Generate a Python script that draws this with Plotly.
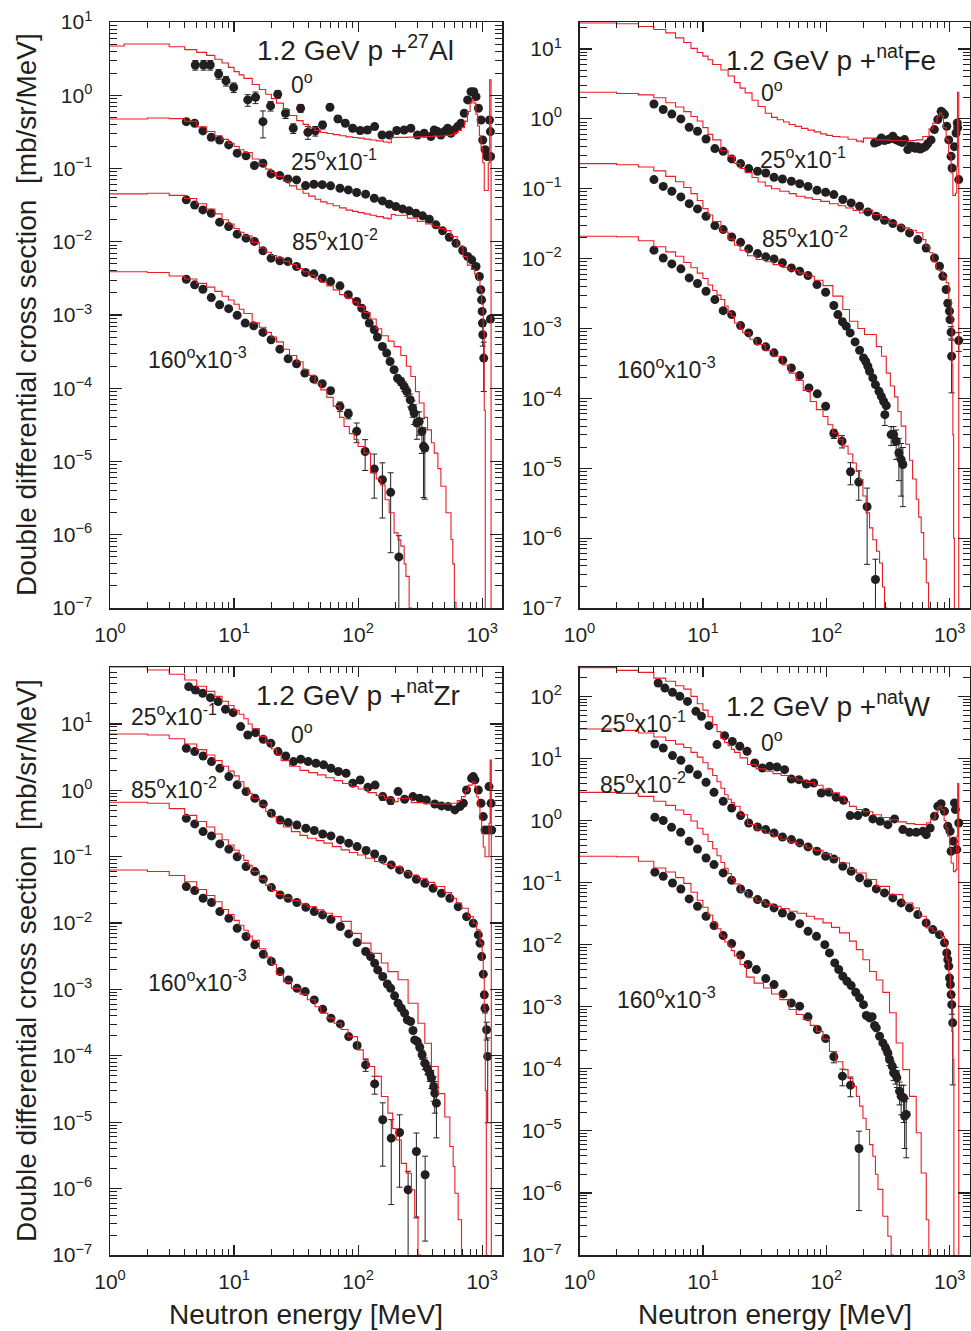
import plotly.graph_objects as go

# ---------------- Experimental data (E [MeV], d2sigma) ----------------
AL_EXP_E_0 = [4.87, 5.68, 6.43, 7.51, 8.61, 9.93, 12.9, 14.9, 17.1, 19.7, 22.5, 26.0, 30.0, 34.4, 39.4, 45.2, 51.7, 59.3, 68.8, 78.9, 90.4, 104, 119, 136, 156, 179, 205, 235, 266, 301, 341, 386, 411, 437, 465, 495, 527, 561, 597, 634, 675, 718, 764, 813, 855, 893, 933, 980, 1011, 1057, 1097, 1146, 1166, 1170]
AL_EXP_Y_0 = [2.59, 2.59, 2.59, 1.95, 1.57, 1.28, 0.863, 0.938, 0.436, 0.715, 1.03, 0.567, 0.354, 0.664, 0.313, 0.326, 0.394, 0.686, 0.475, 0.415, 0.354, 0.33, 0.336, 0.373, 0.287, 0.287, 0.33, 0.336, 0.354, 0.287, 0.303, 0.273, 0.336, 0.319, 0.287, 0.319, 0.354, 0.303, 0.336, 0.373, 0.415, 0.567, 0.863, 1.12, 1.12, 0.957, 0.664, 0.46, 0.245, 0.18, 0.146, 0.46, 0.319, 0.146]
AL_ERR_E_0 = [4.87, 5.68, 6.43, 7.51, 8.61, 9.93, 12.9, 14.9, 17.1, 19.7, 22.5, 26.0, 30.0, 34.4, 39.4, 45.2, 51.7, 59.3, 68.8, 78.9, 90.4, 104, 119, 136]
AL_ERR_R_0 = [0.15, 0.15, 0.15, 0.15, 0.15, 0.15, 0.18, 0.18, 0.4, 0.15, 0.12, 0.15, 0.15, 0.12, 0.2, 0.15, 0.12, 0.1, 0.1, 0.1, 0.1, 0.1, 0.1, 0.08]

AL_EXP_E_25 = [4.12, 4.81, 5.61, 6.55, 7.65, 9.05, 10.6, 12.5, 14.6, 17.1, 19.9, 23.4, 27.2, 31.9, 37.7, 44.0, 51.4, 60.0, 71.4, 83.4, 97.4, 115, 135, 157, 178, 201, 228, 258, 292, 331, 375, 424, 480, 543, 615, 697, 764, 824, 893, 950, 975, 990, 1000, 1005, 1012, 1030, 1166]
AL_EXP_Y_25 = [0.436, 0.415, 0.326, 0.267, 0.245, 0.21, 0.162, 0.149, 0.11, 0.118, 0.0843, 0.080, 0.0721, 0.0698, 0.0585, 0.061, 0.0602, 0.058, 0.0538, 0.051, 0.047, 0.0446, 0.0393, 0.0361, 0.0326, 0.0303, 0.0281, 0.0264, 0.0245, 0.0226, 0.0203, 0.017, 0.0141, 0.0115, 0.00954, 0.00759, 0.00629, 0.00566, 0.00459, 0.00336, 0.00221, 0.00161, 0.00112, 0.000775, 0.000537, 0.000258, 0.00088]
AL_ERR_E_25 = [1012, 1030, 1166]
AL_ERR_R_25 = [0.3, 0.65, 0.1]

AL_EXP_E_85 = [4.12, 4.81, 5.61, 6.55, 7.65, 9.05, 10.6, 12.5, 14.6, 17.1, 19.9, 23.4, 27.2, 31.9, 37.7, 44.0, 51.4, 60.0, 71.4, 83.4, 97.4, 107, 115, 123, 135, 143, 157, 170, 181, 195, 208, 221, 235, 247, 263, 275, 283, 298, 311, 327, 337, 345]
AL_EXP_Y_85 = [0.0373, 0.0318, 0.0272, 0.0245, 0.0185, 0.0161, 0.0127, 0.0112, 0.0101, 0.00752, 0.00597, 0.00549, 0.00537, 0.00459, 0.0038, 0.00365, 0.00318, 0.00286, 0.0025, 0.00189, 0.00153, 0.00124, 0.001, 0.000775, 0.000628, 0.000499, 0.000372, 0.000302, 0.000232, 0.000179, 0.000137, 0.000124, 0.000106, 9.04e-5, 6.96e-5, 5.36e-5, 4.58e-5, 3.35e-5, 3.53e-5, 2.58e-5, 1.61e-5, 1.53e-5]
AL_ERR_E_85 = [221, 235, 247, 263, 275, 283, 298, 311, 327, 337, 345]
AL_ERR_R_85 = [0.12, 0.15, 0.15, 0.2, 0.25, 0.3, 0.4, 0.35, 0.5, 0.8, 0.8]

AL_EXP_E_160 = [4.12, 4.81, 5.61, 6.55, 7.65, 9.05, 10.6, 12.3, 14.4, 17.1, 19.9, 23.4, 27.3, 31.9, 37.2, 44.0, 51.4, 60.0, 71.4, 83.4, 97.4, 114, 135, 157, 183, 213]
AL_EXP_Y_160 = [0.00308, 0.00258, 0.00225, 0.00173, 0.00138, 0.00122, 0.00099, 0.000775, 0.000713, 0.000578, 0.000459, 0.000342, 0.000253, 0.000216, 0.000161, 0.000133, 0.000115, 9.25e-5, 5.65e-5, 4.49e-5, 2.58e-5, 1.37e-5, 7.89e-6, 5.64e-6, 3.79e-6, 4.98e-7]
AL_ERR_E_160 = [71.4, 83.4, 97.4, 114, 135, 157, 183, 213]
AL_ERR_R_160 = [0.15, 0.15, 0.3, 0.45, 0.6, 0.7, 0.85, 0.95]

FE_EXP_E_0 = [246, 262, 279, 296, 315, 330, 346, 368, 392, 410, 430, 457, 480, 501, 525, 550, 576, 604, 633, 663, 706, 751, 800, 851, 880, 906, 946, 982, 1025, 1044, 1091, 1125, 1150, 1161, 1183]
FE_EXP_Y_0 = [0.452, 0.47, 0.533, 0.49, 0.505, 0.52, 0.563, 0.5, 0.478, 0.46, 0.505, 0.363, 0.41, 0.405, 0.38, 0.40, 0.37, 0.384, 0.40, 0.44, 0.50, 0.702, 0.975, 1.28, 1.22, 1.15, 0.783, 0.50, 0.291, 0.198, 0.40, 0.628, 0.873, 0.75, 0.135]
FE_ERR_E_0 = []
FE_ERR_R_0 = []

FE_EXP_E_25 = [4.01, 4.77, 5.6, 6.63, 7.74, 9.04, 10.6, 12.5, 14.6, 17.1, 20.2, 23.5, 27.7, 32.3, 37.7, 44.1, 52.1, 60.8, 71.1, 84, 98.7, 115, 136, 159, 186, 217, 254, 296, 346, 404, 472, 551, 644, 752, 826, 879, 935, 964, 995, 1005, 1026, 1035, 1183]
FE_EXP_Y_25 = [1.63, 1.36, 1.17, 0.997, 0.757, 0.664, 0.515, 0.375, 0.343, 0.267, 0.229, 0.194, 0.178, 0.168, 0.146, 0.138, 0.128, 0.118, 0.108, 0.095, 0.089, 0.0824, 0.07, 0.0627, 0.0561, 0.0466, 0.0404, 0.0354, 0.0317, 0.0275, 0.0233, 0.0187, 0.0142, 0.0102, 0.00778, 0.0056, 0.00361, 0.0023, 0.00177, 0.00134, 0.000885, 0.0004, 0.000671]
FE_ERR_E_25 = [1026, 1035, 1183]
FE_ERR_R_25 = [0.2, 0.7, 0.3]

FE_EXP_E_85 = [4.01, 4.77, 5.6, 6.63, 7.74, 9.04, 10.6, 12.5, 14.6, 17.1, 20.2, 23.5, 27.7, 32.3, 37.7, 44.1, 52.1, 60.8, 71.1, 84, 98.7, 115, 124, 135, 145, 156, 171, 186, 200, 208, 217, 224, 238, 250, 267, 279, 291, 298, 306, 335, 351, 368, 387, 404, 417]
FE_EXP_Y_85 = [0.135, 0.108, 0.092, 0.0764, 0.0612, 0.0514, 0.0404, 0.0297, 0.026, 0.0204, 0.0171, 0.0138, 0.0118, 0.0106, 0.0099, 0.00869, 0.00736, 0.00659, 0.00571, 0.00425, 0.0033, 0.00213, 0.00158, 0.00125, 0.00108, 0.000865, 0.000643, 0.000489, 0.000379, 0.00034, 0.000288, 0.000244, 0.000196, 0.000157, 0.000126, 0.000107, 9.08e-5, 5.85e-5, 7.87e-5, 3.03e-5, 3.03e-5, 2.43e-5, 1.66e-5, 1.33e-5, 1.13e-5]
FE_ERR_E_85 = [298, 335, 351, 368, 387, 404, 417]
FE_ERR_R_85 = [0.3, 0.3, 0.3, 0.45, 0.6, 0.7, 0.75]

FE_EXP_E_160 = [4.01, 4.77, 5.6, 6.63, 7.74, 9.04, 10.6, 12.5, 14.6, 17.1, 20.2, 23.5, 27.7, 32.3, 37.7, 44.4, 52.1, 60.8, 72.3, 84.5, 98.7, 115, 134, 157, 183, 214, 250]
FE_EXP_Y_160 = [0.0132, 0.0102, 0.0084, 0.00713, 0.0053, 0.0044, 0.00341, 0.00259, 0.0018, 0.00158, 0.0011, 0.000865, 0.000658, 0.000546, 0.000448, 0.000352, 0.000273, 0.000212, 0.000141, 0.000116, 7.72e-5, 3.14e-5, 2.44e-5, 8.9e-6, 6.33e-6, 2.81e-6, 2.56e-7]
FE_ERR_E_160 = [115, 134, 157, 183, 214, 250]
FE_ERR_R_160 = [0.15, 0.2, 0.35, 0.45, 0.85, 0.95]

ZR_EXP_E_0 = [4.31, 4.88, 5.59, 6.45, 7.44, 8.53, 9.84, 11.3, 12.9, 14.9, 17.2, 19.8, 22.6, 26.1, 30.1, 34.5, 39.6, 45.7, 52.7, 60.4, 69.3, 80, 90.5, 104, 120, 137, 158, 183, 210, 237, 277, 314, 355, 415, 470, 532, 603, 662, 705, 749, 822, 848, 875, 931, 979, 1021, 1054, 1122, 1136, 1180, 1194]
ZR_EXP_Y_0 = [36.5, 32.5, 29, 24.9, 21.7, 16.6, 14.8, 9.12, 6.83, 7.4, 5.87, 5.11, 3.83, 3.29, 2.71, 2.94, 2.71, 2.56, 2.42, 2.15, 1.92, 1.81, 1.28, 1.43, 1.11, 1.2, 0.805, 0.7, 0.957, 0.733, 0.805, 0.759, 0.716, 0.623, 0.582, 0.569, 0.507, 0.569, 0.638, 1.01, 1.52, 1.61, 1.44, 1.01, 0.638, 0.402, 0.253, 0.253, 1.14, 0.638, 0.253]
ZR_ERR_E_0 = [104, 120, 137, 158, 183, 210]
ZR_ERR_R_0 = [0.1, 0.1, 0.1, 0.12, 0.12, 0.1]

ZR_EXP_E_25 = [4.12, 4.82, 5.63, 6.58, 7.68, 9.08, 10.6, 12.5, 14.7, 17.2, 20, 23.5, 27.3, 32.1, 37.9, 44.3, 51.8, 60.4, 71.9, 84, 98.2, 116, 136, 158, 185, 216, 253, 295, 345, 402, 470, 549, 641, 749, 848, 931, 961, 991, 1021, 1041, 1054, 1087, 1109]
ZR_EXP_Y_25 = [4.3, 3.83, 3.29, 2.71, 2.15, 1.61, 1.21, 0.957, 0.76, 0.624, 0.452, 0.358, 0.327, 0.301, 0.268, 0.248, 0.22, 0.206, 0.179, 0.16, 0.142, 0.124, 0.11, 0.0916, 0.0752, 0.0632, 0.0544, 0.0458, 0.0398, 0.0335, 0.0282, 0.0237, 0.0177, 0.0125, 0.00995, 0.00664, 0.00498, 0.00313, 0.0017, 0.00083, 0.00052, 0.000247, 9.8e-5]
ZR_ERR_E_25 = [1054, 1087, 1109]
ZR_ERR_R_25 = [0.15, 0.3, 0.9]

ZR_EXP_E_85 = [4.12, 4.82, 5.63, 6.58, 7.68, 9.08, 10.6, 12.5, 14.7, 17.2, 20, 23.5, 27.3, 32.1, 37.9, 44.3, 51.8, 60.4, 71.9, 84, 98.2, 115, 126, 136, 144, 158, 172, 183, 197, 210, 223, 237, 249, 265, 277, 286, 300, 314, 328, 345, 362, 378, 390, 407, 415, 428]
ZR_EXP_Y_85 = [0.379, 0.312, 0.239, 0.206, 0.156, 0.13, 0.1, 0.071, 0.0597, 0.0458, 0.0343, 0.0266, 0.0237, 0.0204, 0.0173, 0.0149, 0.0133, 0.0114, 0.00887, 0.00688, 0.00509, 0.00373, 0.00313, 0.00249, 0.00197, 0.00157, 0.00121, 0.00104, 0.000801, 0.000621, 0.000523, 0.00044, 0.000349, 0.000329, 0.000241, 0.000174, 0.000164, 0.000135, 0.000104, 7.76e-5, 6.53e-5, 5.48e-5, 4.6e-5, 3.45e-5, 2.74e-5, 1.94e-5]
ZR_ERR_E_85 = [314, 328, 345, 362, 378, 390, 407, 415, 428]
ZR_ERR_R_85 = [0.12, 0.15, 0.2, 0.2, 0.25, 0.3, 0.4, 0.5, 0.7]

ZR_EXP_E_160 = [4.12, 4.82, 5.63, 6.58, 7.68, 9.08, 10.6, 12.5, 14.7, 17.2, 20, 23.5, 27.5, 32.2, 37.5, 44.3, 51.8, 60.4, 71.9, 84, 98.2, 115, 136, 158, 185, 216, 253, 295, 347]
ZR_EXP_Y_160 = [0.0355, 0.0309, 0.0237, 0.0204, 0.0149, 0.0118, 0.00837, 0.00627, 0.0047, 0.0034, 0.00264, 0.00186, 0.00139, 0.00104, 0.00093, 0.000697, 0.000505, 0.000369, 0.000303, 0.000195, 0.000143, 7.31e-5, 3.78e-5, 1.09e-5, 5.75e-6, 7e-6, 9.6e-7, 3.62e-6, 1.62e-6]
ZR_ERR_E_160 = [115, 136, 158, 185, 216, 253, 295, 347]
ZR_ERR_R_160 = [0.2, 0.3, 0.8, 0.9, 0.85, 0.9, 0.9, 0.9]

W_EXP_E_0 = [4.34, 4.92, 5.67, 6.5, 7.5, 8.77, 9.73, 11.2, 13, 15, 17.3, 19.9, 22.8, 26.3, 30.3, 34.8, 39.8, 45.9, 52, 60, 68.8, 78.9, 91, 105, 120, 138, 156, 180, 208, 238, 273, 315, 357, 417, 472, 535, 606, 645, 694, 752, 800, 851, 906, 964, 1007, 1026, 1071, 1092, 1112, 1140, 1183]
W_EXP_Y_0 = [164, 136, 116, 100, 83, 57.3, 47.6, 33.7, 16.7, 23.3, 18.8, 15.7, 13, 8.44, 7.01, 7.46, 7.28, 6.59, 4.67, 4.55, 3.87, 4.02, 2.77, 2.84, 2.36, 2.12, 1.2, 1.2, 1.35, 1.06, 0.97, 0.857, 1.06, 0.713, 0.645, 0.645, 0.67, 0.592, 0.758, 1.17, 1.69, 1.87, 1.41, 0.807, 0.67, 0.319, 0.462, 1.92, 1.5, 0.34, 0.912]
W_ERR_E_0 = [105, 120, 138, 156, 180, 208]
W_ERR_R_0 = [0.08, 0.08, 0.1, 0.1, 0.1, 0.1]

W_EXP_E_25 = [4.08, 4.77, 5.67, 6.63, 7.74, 9.04, 10.6, 12.3, 14.6, 17.1, 20.2, 23.5, 27.7, 32.3, 37.7, 44.1, 52.1, 60.8, 71.1, 84, 98.7, 115, 136, 159, 186, 217, 254, 296, 346, 404, 472, 551, 644, 729, 826, 906, 946, 964, 982, 995, 1012, 1026, 1038, 1057]
W_EXP_Y_25 = [17.1, 14.7, 11.1, 9.32, 6.76, 5.48, 4.12, 2.84, 2.04, 1.59, 1.2, 0.912, 0.787, 0.713, 0.63, 0.543, 0.492, 0.435, 0.375, 0.319, 0.265, 0.24, 0.183, 0.152, 0.119, 0.0986, 0.0791, 0.0681, 0.0566, 0.047, 0.0391, 0.0305, 0.0224, 0.0175, 0.0145, 0.0107, 0.00736, 0.0057, 0.0045, 0.0029, 0.00227, 0.00157, 0.00108, 0.00055]
W_ERR_E_25 = [1038, 1057]
W_ERR_R_25 = [0.3, 0.9]

W_EXP_E_85 = [4.08, 4.77, 5.57, 6.6, 7.74, 9.04, 10.6, 12.3, 14.6, 17.1, 20.2, 23.5, 27.7, 32.3, 37.7, 44.1, 52.1, 60.8, 71.1, 83.2, 97.2, 106, 117, 126, 136, 147, 159, 173, 186, 200, 211, 224, 235, 246, 254, 270, 287, 302, 315, 325, 342, 351, 364, 373, 392, 404, 423, 431, 444]
W_EXP_Y_85 = [1.13, 1.0, 0.776, 0.645, 0.462, 0.348, 0.249, 0.195, 0.143, 0.109, 0.0789, 0.0664, 0.0532, 0.0458, 0.0391, 0.0324, 0.0286, 0.0218, 0.0164, 0.0136, 0.01, 0.00736, 0.00508, 0.00398, 0.0031, 0.00257, 0.00219, 0.00171, 0.00139, 0.00108, 0.000722, 0.000661, 0.00069, 0.000498, 0.000456, 0.000335, 0.000261, 0.000217, 0.00018, 0.000141, 0.00011, 8.6e-5, 8.1e-5, 7.15e-5, 4.36e-5, 3.62e-5, 3.4e-5, 1.73e-5, 1.84e-5]
W_ERR_E_85 = [302, 315, 325, 342, 351, 364, 373, 392, 404, 423, 431, 444]
W_ERR_R_85 = [0.15, 0.15, 0.2, 0.2, 0.25, 0.3, 0.3, 0.4, 0.5, 0.6, 0.7, 0.8]

W_EXP_E_160 = [4.08, 4.77, 5.67, 6.63, 7.74, 9.04, 10.6, 12.3, 14.6, 17.1, 20.2, 23.2, 27.1, 32.3, 37.7, 44.6, 52, 60.8, 71.1, 84.6, 98.7, 115, 135, 157, 184]
W_EXP_Y_160 = [0.147, 0.126, 0.0986, 0.0789, 0.0545, 0.0415, 0.0286, 0.0203, 0.014, 0.0104, 0.0068, 0.00478, 0.00396, 0.00284, 0.00227, 0.00161, 0.00115, 0.00102, 0.000686, 0.000429, 0.000307, 0.000156, 7.6e-5, 5.45e-5, 5.2e-6]
W_ERR_E_160 = [115, 135, 157, 184]
W_ERR_R_160 = [0.2, 0.3, 0.35, 0.9]

# ---------------- Simulation histograms (bin start E [MeV], value) ----------------
AL_SIM_E_0 = [1, 1.3, 2, 3, 4, 5, 6, 7, 8, 9, 10, 11, 12, 14, 16, 18, 20, 22, 25, 28, 32, 36, 40, 45, 50, 56, 63, 71, 80, 90, 100, 112, 125, 140, 160, 175, 185, 200, 250, 300, 350, 400, 450, 500, 560, 600, 640, 680, 720, 760, 800, 830, 860, 890, 920, 950, 980, 1010, 1040, 1100, 1120, 1150, 1180]
AL_SIM_Y_0 = [4.7, 5.0, 5.0, 4.6, 4.2, 3.85, 3.5, 3.1, 2.75, 2.4, 2.1, 1.9, 1.7, 1.4, 1.2, 1.03, 0.9, 0.78, 0.64, 0.53, 0.45, 0.40, 0.36, 0.33, 0.31, 0.30, 0.29, 0.28, 0.27, 0.265, 0.26, 0.252, 0.245, 0.238, 0.23, 0.225, 0.265, 0.266, 0.268, 0.27, 0.273, 0.275, 0.278, 0.283, 0.29, 0.31, 0.33, 0.36, 0.44, 0.6, 0.78, 0.86, 0.78, 0.55, 0.38, 0.28, 0.19, 0.12, 0.05, 0.05, 0.12, 1.62, 1e-9]
AL_SIM_E_25 = [1, 2, 3, 4, 5, 6, 7, 8, 9, 10, 11, 12, 14, 16, 18, 20, 22, 25, 28, 32, 36, 40, 45, 50, 56, 63, 71, 80, 90, 100, 112, 125, 140, 160, 175, 185, 200, 250, 300, 350, 400, 450, 500, 560, 630, 700, 760, 820, 870, 920, 960, 990, 1020, 1040, 1060]
AL_SIM_Y_25 = [0.475, 0.49, 0.48, 0.44, 0.37, 0.32, 0.28, 0.25, 0.22, 0.2, 0.18, 0.165, 0.135, 0.115, 0.098, 0.088, 0.078, 0.067, 0.058, 0.052, 0.046, 0.042, 0.038, 0.035, 0.033, 0.031, 0.029, 0.027, 0.026, 0.025, 0.024, 0.023, 0.022, 0.021, 0.0205, 0.0235, 0.023, 0.021, 0.019, 0.0175, 0.0163, 0.0152, 0.0142, 0.0118, 0.0088, 0.0063, 0.0048, 0.0042, 0.0036, 0.003, 0.0022, 0.0014, 0.0006, 5e-5, 1e-9]
AL_SIM_E_85 = [1, 2, 3, 4, 5, 6, 7, 8, 9, 10, 11, 12, 14, 16, 18, 20, 22, 25, 28, 32, 36, 40, 45, 50, 56, 63, 71, 80, 90, 100, 112, 125, 140, 155, 175, 195, 221, 245, 266, 290, 311, 340, 363, 390, 411, 440, 465, 511, 561, 580, 597, 615]
AL_SIM_Y_85 = [0.045, 0.046, 0.043, 0.039, 0.033, 0.028, 0.024, 0.02, 0.0175, 0.0152, 0.0135, 0.012, 0.0098, 0.0082, 0.0072, 0.0065, 0.006, 0.0054, 0.0049, 0.0043, 0.0039, 0.0035, 0.0031, 0.0028, 0.0025, 0.0022, 0.0019, 0.0017, 0.0015, 0.0013, 0.00108, 0.00088, 0.00065, 0.00052, 0.00044, 0.00037, 0.00028, 0.0002, 0.000145, 9e-5, 6.3e-5, 4e-5, 2.7e-5, 1.8e-5, 1.3e-5, 8e-6, 4.6e-6, 2e-6, 8.6e-7, 4e-7, 1.2e-7, 1e-9]
AL_SIM_E_160 = [1, 2, 3, 4, 5, 6, 7, 8, 9, 10, 11, 12, 14, 16, 18, 20, 22, 25, 28, 32, 36, 40, 45, 50, 56, 63, 71, 77, 85, 93, 100, 112, 126, 140, 152, 165, 178, 195, 210, 221, 235, 243, 258, 270]
AL_SIM_Y_160 = [0.0039, 0.0038, 0.0034, 0.0031, 0.0027, 0.0024, 0.0021, 0.0018, 0.0016, 0.0014, 0.0012, 0.00105, 0.00078, 0.00068, 0.00058, 0.0005, 0.00043, 0.00034, 0.00028, 0.00023, 0.00018, 0.00015, 0.000115, 9.5e-5, 7.5e-5, 5.7e-5, 4e-5, 3e-5, 2.4e-5, 2e-5, 1.6e-5, 1.3e-5, 7e-6, 5.8e-6, 4.8e-6, 3e-6, 2e-6, 1.06e-6, 8.5e-7, 7e-7, 4e-7, 2.7e-7, 1e-7, 1e-9]

FE_SIM_E_0 = [1, 2, 3, 4, 5, 6, 7, 8, 9, 10, 11, 12, 14, 16, 18, 20, 22, 25, 28, 32, 36, 40, 45, 50, 56, 63, 71, 80, 90, 100, 112, 128, 150, 175, 195, 200, 250, 325, 400, 470, 535, 605, 680, 730, 790, 826, 860, 890, 935, 980, 1026, 1060, 1112, 1140, 1155, 1183]
FE_SIM_Y_0 = [23.5, 23, 21, 19, 17, 14.4, 12.4, 10.2, 8.9, 7.9, 7.0, 6.0, 5.0, 4.1, 3.3, 2.75, 2.35, 1.85, 1.5, 1.2, 1.05, 0.97, 0.9, 0.83, 0.78, 0.73, 0.69, 0.65, 0.61, 0.58, 0.56, 0.55, 0.51, 0.48, 0.465, 0.53, 0.5, 0.49, 0.485, 0.49, 0.5, 0.56, 0.72, 0.87, 1.1, 1.21, 1.1, 0.75, 0.5, 0.3, 0.168, 0.08, 0.086, 0.21, 2.39, 1e-9]
FE_SIM_E_25 = [1, 2, 3, 4, 5, 6, 7, 8, 9, 10, 11, 12, 14, 16, 18, 20, 22, 25, 28, 32, 36, 42, 50, 57, 67, 77, 90, 106, 125, 144, 165, 186, 198, 238, 280, 325, 370, 417, 470, 535, 605, 640, 686, 730, 776, 836, 880, 935, 982, 1026, 1045, 1060, 1075, 1090]
FE_SIM_Y_25 = [2.4, 2.3, 2.2, 2.0, 1.7, 1.48, 1.27, 1.08, 0.93, 0.75, 0.6, 0.5, 0.35, 0.29, 0.23, 0.195, 0.17, 0.145, 0.125, 0.11, 0.1, 0.092, 0.085, 0.078, 0.074, 0.07, 0.066, 0.061, 0.057, 0.053, 0.049, 0.045, 0.0496, 0.0427, 0.037, 0.0324, 0.03, 0.0275, 0.0255, 0.0234, 0.0187, 0.015, 0.0121, 0.009, 0.007, 0.0066, 0.0055, 0.0045, 0.0026, 0.0015, 3e-4, 3e-5, 1e-6, 1e-9]
FE_SIM_E_85 = [1, 2, 3, 4, 5, 6, 7, 8, 9, 10, 11, 12, 14, 16, 18, 20, 23, 27, 32, 37, 44, 50, 60, 69, 80, 94, 113, 136, 154, 180, 204, 254, 280, 306, 330, 357, 380, 404, 440, 472, 500, 535, 560, 587, 615, 645, 673, 690]
FE_SIM_Y_85 = [0.229, 0.22, 0.205, 0.18, 0.15, 0.126, 0.104, 0.085, 0.068, 0.052, 0.042, 0.034, 0.024, 0.019, 0.0155, 0.0132, 0.011, 0.0097, 0.009, 0.0082, 0.0075, 0.0068, 0.0062, 0.0056, 0.0049, 0.0041, 0.0029, 0.00187, 0.00127, 0.001, 0.00082, 0.00055, 0.0004, 0.00023, 0.00015, 0.000105, 6.5e-5, 4e-5, 2.2e-5, 1.3e-5, 7e-6, 3.6e-6, 2e-6, 1.2e-6, 5e-7, 2.3e-7, 1e-7, 1e-9]
FE_SIM_E_160 = [1, 2, 3, 4, 5, 6, 7, 8, 9, 10, 11, 12, 13, 14, 15, 16, 17, 18, 20, 21, 24, 27, 32, 37, 44, 50, 57, 65, 74, 83, 94, 103, 113, 125, 136, 150, 164, 175, 186, 198, 210, 224, 238, 255, 270, 285, 296, 310]
FE_SIM_Y_160 = [0.0209, 0.0205, 0.018, 0.0148, 0.0125, 0.0108, 0.0088, 0.0074, 0.0062, 0.0052, 0.0042, 0.0035, 0.003, 0.0026, 0.0021, 0.0017, 0.0015, 0.0012, 0.00098, 0.00087, 0.0007, 0.00059, 0.00048, 0.0004, 0.0003, 0.00023, 0.00018, 0.00013, 9e-5, 6.9e-5, 5.5e-5, 4.2e-5, 3.2e-5, 2.6e-5, 2.07e-5, 1.6e-5, 1.19e-5, 9e-6, 6.9e-6, 4e-6, 2.3e-6, 1.4e-6, 9.5e-7, 6.5e-7, 4.4e-7, 2e-7, 1e-7, 1e-9]

ZR_SIM_E_0 = [1, 2, 3, 4, 5, 6, 7, 8, 9, 10, 11, 12, 13, 14, 16, 18, 20, 22, 24, 28, 34, 40, 47, 55, 64, 75, 88, 100, 120, 140, 163, 191, 210, 269, 340, 415, 490, 566, 630, 682, 730, 773, 832, 875, 905, 931, 960, 991, 1020, 1054, 1109, 1136, 1160, 1185]
ZR_SIM_Y_0 = [72, 65, 56, 46, 37, 31, 26, 22, 19, 16, 14, 12, 10, 8.5, 6.5, 5.2, 4.2, 3.4, 2.8, 2.3, 2.0, 1.85, 1.71, 1.55, 1.4, 1.27, 1.14, 1.05, 0.925, 0.84, 0.76, 0.676, 0.76, 0.653, 0.63, 0.623, 0.625, 0.638, 0.7, 0.805, 0.98, 1.2, 1.35, 1.14, 0.8, 0.569, 0.36, 0.225, 0.14, 0.1, 0.1, 0.319, 2.87, 1e-9]
ZR_SIM_E_25 = [1, 2, 3, 4, 5, 6, 7, 8, 9, 10, 11, 12, 13, 14, 16, 18, 20, 22, 25, 29, 34, 39, 46, 53, 62, 73, 85, 99, 115, 136, 160, 185, 223, 260, 304, 360, 415, 500, 566, 620, 682, 773, 848, 902, 961, 1000, 1021, 1040, 1060, 1080, 1095]
ZR_SIM_Y_25 = [7.07, 6.8, 6.0, 5.0, 4.1, 3.4, 2.8, 2.3, 1.95, 1.65, 1.35, 1.1, 0.9, 0.76, 0.6, 0.48, 0.4, 0.33, 0.28, 0.239, 0.21, 0.19, 0.175, 0.16, 0.142, 0.127, 0.116, 0.106, 0.095, 0.0845, 0.077, 0.071, 0.0597, 0.053, 0.0474, 0.041, 0.0355, 0.0288, 0.0237, 0.02, 0.0167, 0.0125, 0.00995, 0.0079, 0.005, 0.0028, 0.0015, 5e-4, 3e-5, 1e-7, 1e-9]
ZR_SIM_E_85 = [1, 2, 3, 4, 5, 6, 7, 8, 9, 10, 11, 12, 13, 14, 16, 18, 20, 22, 25, 29, 34, 39, 46, 53, 62, 73, 88, 106, 127, 154, 174, 210, 253, 304, 345, 390, 442, 500, 549, 584, 603, 641, 682, 700]
ZR_SIM_Y_85 = [0.66, 0.64, 0.53, 0.42, 0.34, 0.28, 0.22, 0.18, 0.15, 0.125, 0.105, 0.088, 0.074, 0.06, 0.046, 0.037, 0.031, 0.027, 0.024, 0.0218, 0.0195, 0.0177, 0.0158, 0.0141, 0.0125, 0.0106, 0.007, 0.005, 0.0035, 0.0025, 0.00186, 0.0014, 0.00062, 0.00031, 0.000155, 6.9e-5, 2.7e-5, 1.2e-5, 4.3e-6, 2.15e-6, 8.5e-7, 3.4e-7, 1e-7, 1e-9]
ZR_SIM_E_160 = [1, 2, 3, 4, 5, 6, 7, 8, 9, 10, 11, 12, 13, 14, 16, 18, 20, 22, 25, 29, 34, 39, 45, 50, 57, 64, 73, 83, 99, 110, 120, 136, 154, 174, 190, 203, 223, 245, 269, 286, 304, 320]
ZR_SIM_Y_160 = [0.0632, 0.06, 0.052, 0.042, 0.032, 0.026, 0.021, 0.016, 0.0135, 0.011, 0.0093, 0.0078, 0.0064, 0.0055, 0.0041, 0.0031, 0.0024, 0.0017, 0.0013, 0.00104, 0.00085, 0.0007, 0.00055, 0.00044, 0.00037, 0.00031, 0.00025, 0.000195, 0.000123, 9e-5, 6.9e-5, 4.9e-5, 2.44e-5, 1.37e-5, 8e-6, 5.4e-6, 2.4e-6, 1.7e-6, 9.6e-7, 3.8e-7, 1e-7, 1e-9]

W_SIM_E_0 = [1, 2, 3, 4, 5, 6, 7, 8, 9, 10, 11, 12, 13, 14, 15, 16, 17, 18, 20, 23, 27, 32, 37, 43, 50, 58, 69, 80, 94, 110, 128, 140, 154, 175, 200, 238, 280, 325, 380, 444, 520, 605, 650, 700, 760, 800, 826, 860, 900, 930, 964, 1000, 1026, 1071, 1112, 1140, 1160, 1183]
W_SIM_Y_0 = [290, 262, 243, 197, 175, 148, 131, 100, 76, 60, 47, 35, 27, 21, 18, 16, 14, 12.5, 10.2, 8, 6.8, 6.2, 5.7, 5.3, 4.85, 4.5, 4.1, 3.7, 3.2, 2.8, 2.45, 2.0, 1.69, 1.5, 1.38, 1.24, 1.12, 1.03, 0.95, 0.89, 0.86, 0.857, 0.92, 1.05, 1.35, 1.6, 1.69, 1.5, 1.0, 0.75, 0.557, 0.35, 0.207, 0.15, 0.16, 0.557, 3.93, 1e-9]
W_SIM_E_25 = [1, 2, 3, 4, 5, 6, 7, 8, 9, 10, 11, 12, 13, 14, 15, 16, 17, 18, 20, 23, 27, 32, 37, 43, 50, 58, 69, 80, 94, 110, 128, 154, 175, 210, 254, 325, 417, 502, 569, 645, 729, 851, 906, 946, 982, 1010, 1040, 1060, 1080, 1095]
W_SIM_Y_25 = [29.8, 28.3, 25.7, 22.1, 19.5, 17, 15, 12.5, 10.5, 8.5, 6.8, 5.3, 4.2, 3.3, 2.6, 2.2, 1.95, 1.7, 1.24, 0.86, 0.71, 0.62, 0.557, 0.5, 0.446, 0.4, 0.361, 0.33, 0.292, 0.25, 0.207, 0.162, 0.143, 0.112, 0.087, 0.064, 0.047, 0.039, 0.0286, 0.0186, 0.0164, 0.0136, 0.0107, 0.0057, 0.0035, 0.0015, 0.0004, 1.4e-4, 1e-7, 1e-9]
W_SIM_E_85 = [1, 2, 3, 4, 5, 6, 7, 8, 9, 10, 11, 12, 13, 14, 15, 16, 17, 18, 20, 23, 27, 32, 37, 43, 50, 58, 69, 80, 94, 110, 128, 154, 175, 198, 224, 254, 287, 325, 368, 417, 472, 535, 587, 645, 677, 700]
W_SIM_Y_85 = [2.84, 2.74, 2.45, 2.04, 1.75, 1.48, 1.25, 0.98, 0.75, 0.6, 0.46, 0.35, 0.27, 0.21, 0.17, 0.14, 0.115, 0.095, 0.072, 0.057, 0.05, 0.045, 0.0415, 0.038, 0.0345, 0.032, 0.0286, 0.026, 0.0224, 0.019, 0.0155, 0.0114, 0.0083, 0.0057, 0.0037, 0.0027, 0.0017, 0.0008, 0.00026, 9.7e-5, 3.6e-5, 9.3e-6, 2.1e-6, 3.7e-7, 1e-7, 1e-9]
W_SIM_E_160 = [1, 2, 3, 4, 5, 6, 7, 8, 9, 10, 11, 12, 13, 14, 15, 16, 17, 18, 20, 22.5, 26, 31, 36, 42, 50, 57, 65, 74, 83, 94, 106, 120, 136, 150, 164, 175, 186, 198, 210, 224, 238, 250, 262, 287, 315, 335, 350]
W_SIM_Y_160 = [0.265, 0.26, 0.22, 0.172, 0.148, 0.12, 0.097, 0.07, 0.052, 0.04, 0.03, 0.023, 0.018, 0.0138, 0.011, 0.0095, 0.008, 0.0066, 0.0048, 0.003, 0.0024, 0.002, 0.0016, 0.0013, 0.0009, 0.00075, 0.00062, 0.0005, 0.0004, 0.0003, 0.00019, 0.00013, 9.7e-5, 7e-5, 5.2e-5, 3.6e-5, 2.5e-5, 1.6e-5, 1.05e-5, 6e-6, 3.9e-6, 2e-6, 1.14e-6, 4.2e-7, 2e-7, 1e-7, 1e-9]

# ---------------- Labels ----------------
TITLES = ["1.2 GeV p +<sup>27</sup>Al", "1.2 GeV p +<sup>nat</sup>Fe",
          "1.2 GeV p +<sup>nat</sup>Zr", "1.2 GeV p +<sup>nat</sup>W"]
ANGLE_LABELS = ["0<sup>o</sup>", "25<sup>o</sup>x10<sup>-1</sup>",
                "85<sup>o</sup>x10<sup>-2</sup>", "160<sup>o</sup>x10<sup>-3</sup>"]
X_TICKS = [1, 10, 100, 1000]
X_TICKTEXT = ["10<sup>0</sup>", "10<sup>1</sup>", "10<sup>2</sup>", "10<sup>3</sup>"]
Y_EXPONENTS = [-7, -6, -5, -4, -3, -2, -1, 0, 1, 2]
X_TITLE = "Neutron energy [MeV]"
Y_TITLE = "Double differential cross section \u00a0[mb/sr/MeV]"

# ---------------- Figure ----------------
W, H = 971, 1331
FONT = "Liberation Sans, Arial, Helvetica, sans-serif"
INK = "#231f20"
RED = "#ea1c24"

def pxx(x):
    return x / W

def pxy(y):
    return 1 - y / H

PANELS = [
    dict(box=(110, 22, 502, 608), yr=(-7, 1.0)),
    dict(box=(579.5, 22, 969.5, 608), yr=(-7, 1.386)),
    dict(box=(110, 667, 502, 1255), yr=(-7, 1.858)),
    dict(box=(579.5, 667, 969.5, 1255), yr=(-7, 2.473)),
]

exp_sets = [
    [(AL_EXP_E_0, AL_EXP_Y_0, AL_ERR_E_0, AL_ERR_R_0), (AL_EXP_E_25, AL_EXP_Y_25, AL_ERR_E_25, AL_ERR_R_25),
     (AL_EXP_E_85, AL_EXP_Y_85, AL_ERR_E_85, AL_ERR_R_85), (AL_EXP_E_160, AL_EXP_Y_160, AL_ERR_E_160, AL_ERR_R_160)],
    [(FE_EXP_E_0, FE_EXP_Y_0, FE_ERR_E_0, FE_ERR_R_0), (FE_EXP_E_25, FE_EXP_Y_25, FE_ERR_E_25, FE_ERR_R_25),
     (FE_EXP_E_85, FE_EXP_Y_85, FE_ERR_E_85, FE_ERR_R_85), (FE_EXP_E_160, FE_EXP_Y_160, FE_ERR_E_160, FE_ERR_R_160)],
    [(ZR_EXP_E_0, ZR_EXP_Y_0, ZR_ERR_E_0, ZR_ERR_R_0), (ZR_EXP_E_25, ZR_EXP_Y_25, ZR_ERR_E_25, ZR_ERR_R_25),
     (ZR_EXP_E_85, ZR_EXP_Y_85, ZR_ERR_E_85, ZR_ERR_R_85), (ZR_EXP_E_160, ZR_EXP_Y_160, ZR_ERR_E_160, ZR_ERR_R_160)],
    [(W_EXP_E_0, W_EXP_Y_0, W_ERR_E_0, W_ERR_R_0), (W_EXP_E_25, W_EXP_Y_25, W_ERR_E_25, W_ERR_R_25),
     (W_EXP_E_85, W_EXP_Y_85, W_ERR_E_85, W_ERR_R_85), (W_EXP_E_160, W_EXP_Y_160, W_ERR_E_160, W_ERR_R_160)],
]
sim_sets = [
    [(AL_SIM_E_0, AL_SIM_Y_0), (AL_SIM_E_25, AL_SIM_Y_25), (AL_SIM_E_85, AL_SIM_Y_85), (AL_SIM_E_160, AL_SIM_Y_160)],
    [(FE_SIM_E_0, FE_SIM_Y_0), (FE_SIM_E_25, FE_SIM_Y_25), (FE_SIM_E_85, FE_SIM_Y_85), (FE_SIM_E_160, FE_SIM_Y_160)],
    [(ZR_SIM_E_0, ZR_SIM_Y_0), (ZR_SIM_E_25, ZR_SIM_Y_25), (ZR_SIM_E_85, ZR_SIM_Y_85), (ZR_SIM_E_160, ZR_SIM_Y_160)],
    [(W_SIM_E_0, W_SIM_Y_0), (W_SIM_E_25, W_SIM_Y_25), (W_SIM_E_85, W_SIM_Y_85), (W_SIM_E_160, W_SIM_Y_160)],
]

LABEL_POS = [
    [(355, 48), (302, 83), (334, 160), (335, 240), (197, 358)],
    [(831, 58), (772, 91), (803, 158), (805, 237), (666, 368)],
    [(358, 693), (302, 733), (174, 715), (174, 788), (197, 981)],
    [(828, 704), (772, 741), (643, 722), (643, 783), (666, 998)],
]

fig = go.Figure()

def abs_err(E, Y, eE, eR):
    lut = dict(zip(eE, eR))
    return [y * lut.get(e, 0.03) for e, y in zip(E, Y)]

for i in range(4):
    xa = "x" if i == 0 else f"x{i+1}"
    ya = "y" if i == 0 else f"y{i+1}"
    for (E, Y, eE, eR) in exp_sets[i]:
        fig.add_trace(go.Scatter(
            x=E, y=Y, xaxis=xa, yaxis=ya, mode="markers",
            marker=dict(size=9, color=INK, line=dict(width=0)),
            error_y=dict(type="data", array=abs_err(E, Y, eE, eR), color=INK,
                         thickness=1, width=3),
            showlegend=False, hoverinfo="skip"))
    for (E, Y) in sim_sets[i]:
        fig.add_trace(go.Scatter(
            x=E, y=Y, xaxis=xa, yaxis=ya, mode="lines",
            line=dict(color=RED, width=1.1, shape="hv"),
            showlegend=False, hoverinfo="skip"))

minor_x = [k * 10 ** n for n in range(0, 4) for k in range(2, 10)]
minor_y = [k * 10.0 ** n for n in range(-7, 3) for k in range(2, 10)]

layout = dict(width=W, height=H, autosize=False,
              margin=dict(l=0, r=0, t=0, b=0, pad=0, autoexpand=False),
              paper_bgcolor="white", plot_bgcolor="white", showlegend=False,
              font=dict(family=FONT, color=INK, size=21))
annotations = []
for i, p in enumerate(PANELS):
    l, t, r, b = p["box"]
    sx = "" if i == 0 else str(i + 1)
    y_lo, y_hi = p["yr"]
    ex = [e for e in Y_EXPONENTS if y_lo - 1e-9 <= e <= y_hi + 1e-9]
    yt = [10.0 ** e for e in ex]
    ytt = ["10<sup>%s</sup>" % (str(e).replace("-", "\u2212")) for e in ex]
    layout["xaxis" + sx] = dict(
        type="log", range=[0, 3.16], domain=[pxx(l), pxx(r)], anchor="y" + sx,
        automargin=False,
        tickmode="array", tickvals=X_TICKS, ticktext=X_TICKTEXT,
        ticks="inside", ticklen=10, tickwidth=1.2, tickcolor=INK,
        minor=dict(tickmode="array", tickvals=minor_x, ticks="inside", ticklen=6,
                   tickwidth=1, tickcolor=INK, showgrid=False),
        showline=True, linewidth=1.5, linecolor=INK, mirror="ticks",
        showgrid=False, zeroline=False, tickfont=dict(size=21, color=INK),
        ticklabelstandoff=7)
    layout["yaxis" + sx] = dict(
        type="log", range=[y_lo, y_hi], domain=[pxy(b), pxy(t)], anchor="x" + sx,
        automargin=False,
        tickmode="array", tickvals=yt, ticktext=ytt,
        ticks="inside", ticklen=12, tickwidth=1.2, tickcolor=INK,
        minor=dict(tickmode="array", tickvals=minor_y, ticks="inside", ticklen=7,
                   tickwidth=1, tickcolor=INK, showgrid=False),
        showline=True, linewidth=1.5, linecolor=INK, mirror="ticks",
        showgrid=False, zeroline=False, tickfont=dict(size=21, color=INK),
        ticklabelstandoff=12)
    pos = LABEL_POS[i]
    annotations.append(dict(text=TITLES[i], x=pxx(pos[0][0]), y=pxy(pos[0][1]),
                            xref="paper", yref="paper", showarrow=False,
                            font=dict(size=28, color=INK), xanchor="center", yanchor="middle"))
    for k in range(4):
        annotations.append(dict(text=ANGLE_LABELS[k], x=pxx(pos[k + 1][0]), y=pxy(pos[k + 1][1]),
                                xref="paper", yref="paper", showarrow=False,
                                font=dict(size=23, color=INK), xanchor="center", yanchor="middle"))

for cy in [(22 + 608) / 2, (667 + 1255) / 2]:
    annotations.append(dict(text=Y_TITLE, x=pxx(26), y=pxy(cy), xref="paper", yref="paper",
                            showarrow=False, textangle=-90, font=dict(size=28, color=INK),
                            xanchor="center", yanchor="middle"))
for cx in [(110 + 502) / 2, (579.5 + 969.5) / 2]:
    annotations.append(dict(text=X_TITLE, x=pxx(cx), y=pxy(1314), xref="paper", yref="paper",
                            showarrow=False, font=dict(size=28, color=INK),
                            xanchor="center", yanchor="middle"))

layout["annotations"] = annotations
fig.update_layout(**layout)
fig.write_html("out.html", config={"displayModeBar": False, "staticPlot": True},
               post_script="document.body.style.margin='0';document.body.style.padding='0';"
                           "document.documentElement.style.overflow='hidden';")
